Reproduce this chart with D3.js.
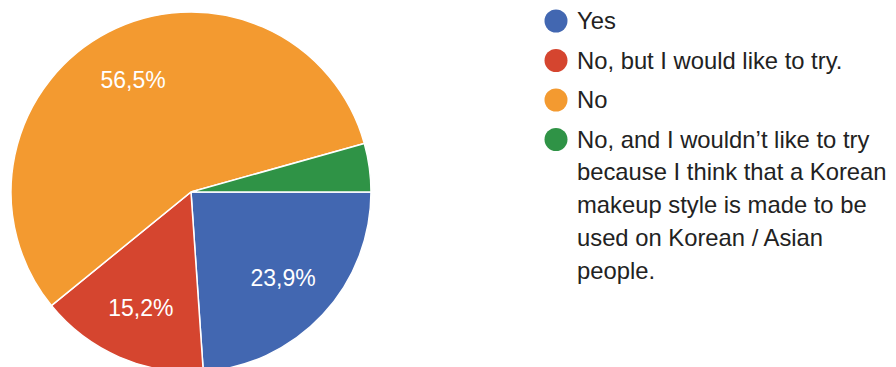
<!DOCTYPE html>
<html>
<head>
<meta charset="utf-8">
<script src="https://cdn.jsdelivr.net/npm/d3@7"></script>
<style>
  html, body { margin: 0; padding: 0; background: #fff; }
  svg { display: block; }
</style>
</head>
<body>
<svg id="chart" width="896" height="367"></svg>
<script>
// Data
const categories = ["Yes", "No, but I would like to try.", "No", "No, and I wouldn\u2019t like to try because I think that a Korean makeup style is made to be used on Korean / Asian people."];
const legendLines = [
  ["Yes"],
  ["No, but I would like to try."],
  ["No"],
  ["No, and I wouldn\u2019t like to try", "because I think that a Korean", "makeup style is made to be", "used on Korean / Asian", "people."]
];
const values = [11, 7, 26, 2];
const colors = ["#4267b1", "#d5452f", "#f39a30", "#2f9346"];

const svg = d3.select("#chart");
const cx = 191, cy = 192, r = 180;
const total = d3.sum(values);

const pie = d3.pie().sort(null).value(d => d)
  .startAngle(Math.PI / 2).endAngle(Math.PI / 2 + 2 * Math.PI);
const arcs = pie(values);
const arc = d3.arc().innerRadius(0).outerRadius(r);
const labelArc = d3.arc().innerRadius(r * 0.7).outerRadius(r * 0.7);

const g = svg.append("g").attr("transform", `translate(${cx},${cy})`);
g.selectAll("path.slice").data(arcs).enter().append("path")
  .attr("class", "slice")
  .attr("d", arc)
  .attr("fill", (d, i) => colors[i])
  .attr("stroke", "#fff")
  .attr("stroke-width", 1.5);

const fmt = v => (v / total * 100).toFixed(1).replace(".", ",") + "%";
g.selectAll("text.lbl").data(arcs.filter(d => d.value / total > 0.05)).enter().append("text")
  .attr("class", "lbl")
  .attr("x", d => labelArc.centroid(d)[0])
  .attr("y", d => labelArc.centroid(d)[1])
  .attr("dy", "0.36em")
  .attr("text-anchor", "middle")
  .attr("fill", "#fff")
  .style("font-family", "'Liberation Sans', Arial, sans-serif")
  .style("font-size", "23px")
  .text(d => fmt(d.value));

// Legend
const lgX = 556, lgY0 = 21, rowStep = 39.5, lineStep = 32.75;
const lg = svg.append("g");
legendLines.forEach((lines, i) => {
  const y = lgY0 + i * rowStep;
  lg.append("circle").attr("cx", lgX).attr("cy", y).attr("r", 11.5).attr("fill", colors[i]);
  const t = lg.append("text")
    .attr("x", lgX + 21)
    .attr("y", y + 8)
    .attr("fill", "#222")
    .style("font-family", "'Liberation Sans', Arial, sans-serif")
    .style("font-size", "23.8px");
  lines.forEach((ln, j) => {
    t.append("tspan").attr("x", lgX + 21).attr("dy", j === 0 ? 0 : lineStep).text(ln);
  });
});
</script>
</body>
</html>
